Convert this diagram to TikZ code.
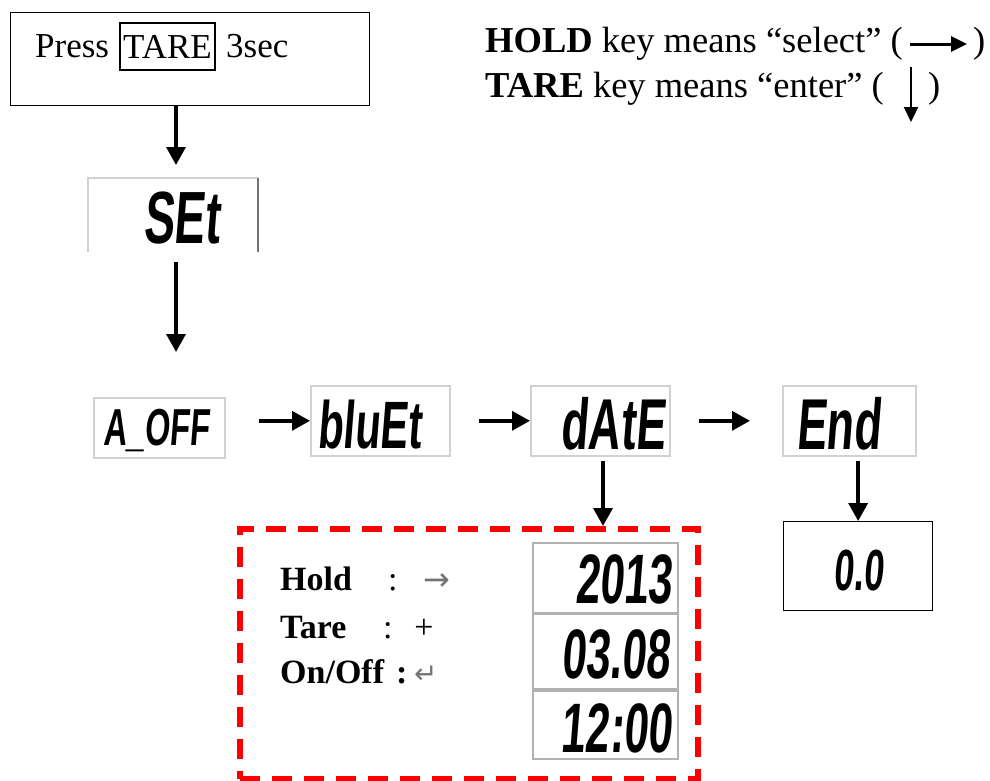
\documentclass[tikz,border=0pt]{standalone}
\usepackage{fontspec}
\setmainfont{Liberation Serif}
\newfontfamily\lcdfont[FakeStretch=0.62,FakeSlant=0.08,BoldFont=*]{Liberation Sans Bold}
\newfontfamily\symfont{DejaVu Sans}
\usetikzlibrary{arrows.meta}
\begin{document}
\begin{tikzpicture}[x=1pt,y=-1pt,
  lcdbox/.style={draw=black!18, line width=1.6pt, fill=white, inner sep=0pt, anchor=north west},
  lcdtxt/.style={inner sep=0pt, font=\lcdfont\fontsize{#1}{#1}\selectfont},
  serif/.style={inner sep=0pt, anchor=base west, font=\fontsize{#1}{#1}\selectfont},
  arr/.style={line width=3.5pt, -{Triangle[length=18pt,width=19pt]}},
  keyarr/.style={line width=3pt, -{Triangle[length=16pt,width=15pt]}},
  blackbox/.style={draw, line width=1.3pt, inner sep=0pt, anchor=north west}]
\useasboundingbox (0,0) rectangle (990,780);

% Press TARE 3sec
\node[blackbox, minimum width=359pt, minimum height=93pt] (press) at (10,12) {};
\node[serif=35] (presst) at (35,57) {Press};
\node[draw, line width=1.3pt, inner sep=0pt, minimum width=95pt, minimum height=47pt,
      font=\fontsize{35}{35}\selectfont] (tare) at (167.5,46.5) {TARE};
\node[serif=35] (sec) at (226,57) {3sec};

% legend
\node[serif=36.5] (l1) at (485,52) {\textbf{HOLD} key means “select” (};
\node[serif=36.5] (l1p) at (973,52) {)};
\coordinate (a1s) at (910,44);
\coordinate (a1e) at (967,44);
\draw[keyarr] (a1s) -- (a1e);
\node[serif=36.5] (l2) at (485,97) {\textbf{TARE} key means “enter” (};
\node[serif=36.5] (l2p) at (928,97) {)};
\coordinate (a2s) at (911,67);
\coordinate (a2e) at (911,122);
\draw[line width=2.2pt, -{Triangle[length=15pt,width=14pt]}] (a2s) -- (a2e);

% SEt
\node[inner sep=0pt, anchor=north west, minimum width=170pt, minimum height=74pt] (setb) at (88,178) {};
\draw[black!18, line width=1.6pt] (setb.south west) -- (setb.north west) -- (setb.north east);
\draw[black!55, line width=2pt] (setb.north east) -- (setb.south east);
\node[lcdtxt=74, anchor=base west] (sett) at (143,243) {SEt};

% row
\node[lcdbox, minimum width=131pt, minimum height=60pt] (aoffb) at (93,397) {};
\node[lcdtxt=52, anchor=base west] (aofft) at (103,445) {A\_OFF};
\node[lcdbox, minimum width=139pt, minimum height=70pt] (blub) at (310,385) {};
\node[lcdtxt=67, anchor=base west] (blut) at (317,448) {bluEt};
\node[lcdbox, minimum width=139pt, minimum height=70pt] (dateb) at (530,385) {};
\node[lcdtxt=72, anchor=base east] (datet) at (665,449) {dAtE};
\node[lcdbox, minimum width=133pt, minimum height=70pt] (endb) at (782,385) {};
\node[lcdtxt=72, anchor=base west] (endt) at (796,449) {End};

% result
\node[blackbox, minimum width=149pt, minimum height=89pt] (zero) at (783,521) {};
\node[lcdtxt=58, anchor=base west] (zerot) at (833,590) {0.0};

% red dashed group
\node[draw=red, line width=5.5pt, dash pattern=on 20pt off 12pt, inner sep=0pt,
      minimum width=458pt, minimum height=250pt, anchor=north west] (redbox) at (237,526) {};
\node[lcdbox, draw=black!30, minimum width=145pt, minimum height=70pt] (yearb) at (532,542) {};
\node[lcdtxt=70, anchor=base east] (yeart) at (672,603) {2013};
\node[lcdbox, draw=black!30, minimum width=145pt, minimum height=75pt] (dayb) at (532,613) {};
\node[lcdtxt=70, anchor=base east] (dayt) at (670,678) {03.08};
\node[lcdbox, draw=black!30, minimum width=145pt, minimum height=68pt] (timeb) at (532,690) {};
\node[lcdtxt=70, anchor=base east] (timet) at (672,752) {12:00};

\node[serif=34, font=\bfseries\fontsize{34}{34}\selectfont] (hold) at (280,590) {Hold};
\node[serif=34] (holdc) at (388,590) {:};
\node[inner sep=0pt, anchor=base, text=black!55, font=\symfont\fontsize{32}{32}\selectfont] (holda) at (437,590) {→};
\node[serif=34, font=\bfseries\fontsize{34}{34}\selectfont] (taret) at (280,638) {Tare};
\node[serif=34] (tarec) at (383,638) {:};
\node[inner sep=0pt, anchor=base, font=\fontsize{34}{34}\selectfont] (tarep) at (424,638) {+};
\node[serif=34, font=\bfseries\fontsize{34}{34}\selectfont] (onoff) at (280,683) {On/Off};
\node[serif=34, font=\bfseries\fontsize{34}{34}\selectfont] (onoffc) at (396,683) {:};
\node[inner sep=0pt, anchor=base west, text=black!55, font=\symfont\fontsize{28}{28}\selectfont] (onoffa) at (414,683) {↵};

% connectors
\draw[arr] (press.south -| 176,0) -- ([yshift=13pt]setb.north -| 176,0);
\draw[arr, shorten <=10pt, shorten >=45pt] (setb.south -| 176,0) -- (aoffb.north -| 176,0);
\draw[arr, shorten <=33pt] (blub.west -| aoffb.east) -- (blub.west);
\draw[arr, shorten <=28pt] (blub.east) -- (dateb.west);
\draw[arr, shorten <=28pt, shorten >=32pt] (dateb.east) -- (endb.west);
\draw[arr, shorten <=4pt] (dateb.south -| 603,0) -- (redbox.north -| 603,0);
\draw[arr, shorten <=4pt] (endb.south -| zero.north) -- (zero.north);
\end{tikzpicture}
\end{document}
